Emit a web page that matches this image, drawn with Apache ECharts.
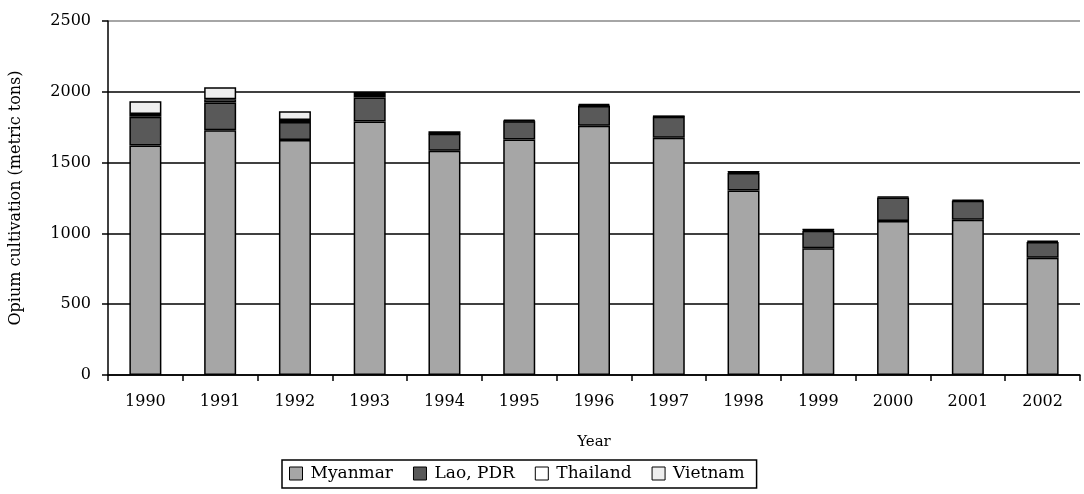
<!DOCTYPE html>
<html>
<head>
<meta charset="utf-8">
<script src="https://cdn.jsdelivr.net/npm/echarts@6/dist/echarts.min.js"></script>
<style>
  html, body { margin: 0; padding: 0; background: #fff; }
  #chart { width: 1084px; height: 494px; }
</style>
</head>
<body>
<div id="chart"></div>
<script>
// opium cultivation by country (metric tons)
const years = ["1990", "1991", "1992", "1993", "1994", "1995", "1996", "1997", "1998", "1999", "2000", "2001", "2002"];
const myanmar = [1621, 1728, 1660, 1791, 1583, 1664, 1760, 1676, 1303, 895, 1087, 1097, 828];
const lao = [202, 196, 127, 169, 120, 128, 140, 147, 124, 124, 167, 134, 112];
const thailand = [20, 23, 14, 17, 3, 2, 5, 4, 8, 8, 6, 6, 9];
const vietnam = [90, 85, 61, 21, 15, 9, 9, 2, 2, 2, null, null, null];

const font = "'DejaVu Serif', 'Liberation Serif', serif";

const chart = echarts.init(document.getElementById("chart"), null, { renderer: "canvas" });

function barSeries(name, data, fill) {
  return {
    name,
    type: "bar",
    stack: "total",
    data,
    barWidth: 32,
    itemStyle: { color: fill, borderColor: "#000", borderWidth: 1.5 },
  };
}

chart.setOption({
  animation: false,
  textStyle: { fontFamily: font },
  grid: { left: 108, right: 4, top: 21, bottom: 119, outerBoundsMode: "none" },
  legend: {
    top: 460,
    left: 282,
    icon: "rect",
    itemWidth: 13,
    itemHeight: 13,
    itemGap: 20,
    borderColor: "#000",
    borderWidth: 1.5,
    borderRadius: 0,
    padding: [5, 12, 6, 7],
    textStyle: { fontFamily: font, fontSize: 17, color: "#000", padding: [0, 0, 0, 3] },
    itemStyle: { borderColor: "#000", borderWidth: 1 },
    data: ["Myanmar", "Lao, PDR", "Thailand", "Vietnam"],
  },
  xAxis: {
    type: "category",
    data: years,
    name: "Year",
    nameLocation: "middle",
    nameGap: 60,
    nameTextStyle: { fontFamily: font, fontSize: 15, color: "#000" },
    axisLine: { lineStyle: { color: "#000", width: 1.5 } },
    axisTick: { show: true, length: 6, lineStyle: { color: "#000", width: 1.5 } },
    axisLabel: { fontFamily: font, fontSize: 16, color: "#000", margin: 19 },
  },
  yAxis: {
    type: "value",
    min: 0,
    max: 2500,
    interval: 500,
    name: "Opium cultivation (metric tons)",
    nameLocation: "middle",
    nameGap: 84,
    nameTextStyle: { fontFamily: font, fontSize: 16, color: "#000" },
    axisLine: { show: true, lineStyle: { color: "#000", width: 1.5 } },
    axisTick: { show: true, length: 6, lineStyle: { color: "#000", width: 1.5 } },
    axisLabel: {
      fontFamily: font,
      fontSize: 16,
      color: "#000",
      margin: 17,
      formatter: (v) => String(v),
    },
    splitLine: {
      lineStyle: {
        color: ["#000", "#000", "#000", "#000", "#000", "#888"],
        width: 1.5,
      },
    },
  },
  series: [
    barSeries("Myanmar", myanmar, "#a6a6a6"),
    barSeries("Lao, PDR", lao, "#595959"),
    barSeries("Thailand", thailand, "#ffffff"),
    barSeries("Vietnam", vietnam, "#eeeeee"),
  ],
});
</script>
</body>
</html>
